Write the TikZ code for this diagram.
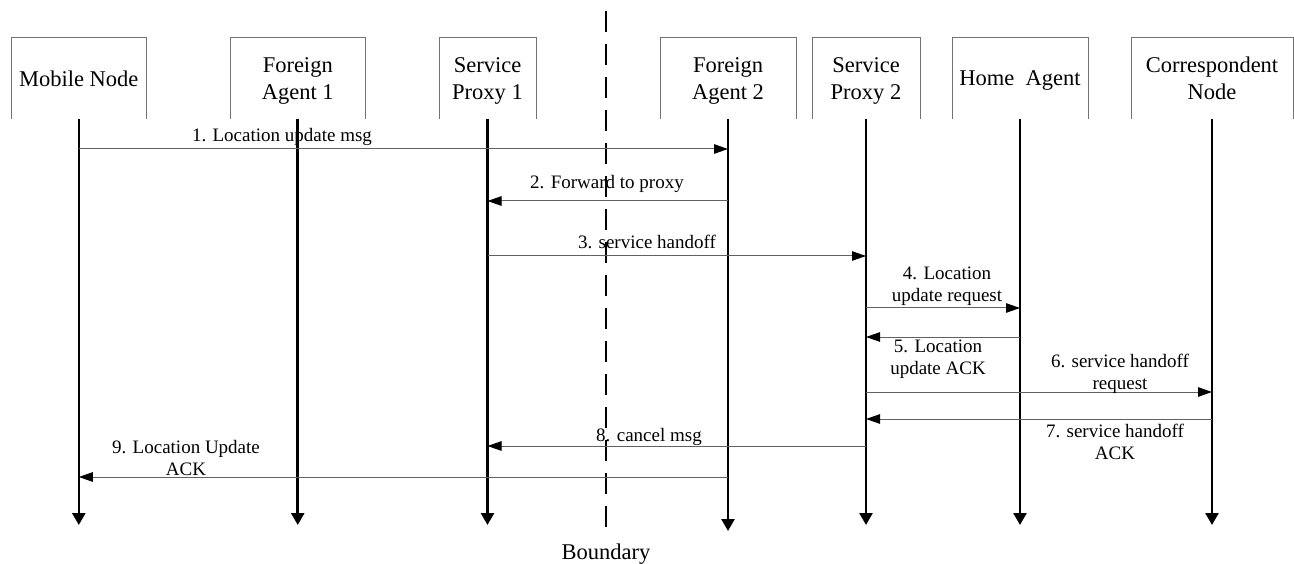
\documentclass[tikz,border=0pt]{standalone}
\usepackage{fontspec}
\setmainfont{Liberation Serif}
\usetikzlibrary{arrows.meta}
\begin{document}
\begin{tikzpicture}[x=1pt,y=-1pt,
  box/.style={minimum height=81pt, inner sep=0pt, outer sep=0pt, align=center, text depth=0pt, font=\fontsize{22.5}{27}\selectfont},
  boxline/.style={draw=black!55, line width=1pt},
  life/.style={line width=2.6pt, -{Triangle[length=12pt,width=13pt]}},
  msg/.style={draw=black!62, line width=1pt, -{Triangle[length=14pt,width=9.5pt,color=black]}},
  lbl/.style={anchor=north, inner sep=0pt, outer sep=0pt, align=center, font=\fontsize{19}{22}\selectfont},
  bdry/.style={line width=1.5pt, dash pattern=on 21pt off 12pt},
]
\useasboundingbox (0,0) rectangle (1294,564);

% participant boxes
\node[box, minimum width=134.5pt] (mn)  at (78.8,78.5)  {Mobile Node};
\node[box, minimum width=134.5pt] (fa1) at (297.75,78.5) {Foreign\\Agent 1};
\node[box, minimum width=97pt]    (sp1) at (487.5,78.5) {Service\\Proxy 1};
\node[box, minimum width=136pt]   (fa2) at (728,78.5)   {Foreign\\Agent 2};
\node[box, minimum width=108pt]   (sp2) at (866,78.5)   {Service\\Proxy 2};
\node[box, minimum width=136pt]   (ha)  at (1020,78.5)  {Home\ \ Agent};
\node[box, minimum width=162pt]   (cn)  at (1212,78.5)  {Correspondent\\Node};

\foreach \b in {mn,fa1,sp1,fa2,sp2,ha,cn}{
  \draw[boxline] (\b.south west) -- (\b.north west) -- (\b.north east) -- (\b.south east);
}

% lifelines
\coordinate (endy) at (0,525);
\coordinate (endyb) at (0,531);
\foreach \b in {mn,fa1,sp1,sp2,ha,cn}{
  \draw[life] (\b.south) -- (\b.south |- endy);
}
\draw[life] (fa2.south) -- (fa2.south |- endyb);

% boundary
\coordinate (bt) at (606,11);
\coordinate (bb) at (606,527);
\draw[bdry] (bt) -- (bb);
\node[lbl, font=\fontsize{22.5}{27}\selectfont] (bnd) at (606,543.6) {Boundary};

% messages
\coordinate (y1) at (0,149);
\coordinate (y2) at (0,201);
\coordinate (y3) at (0,256);
\coordinate (y4) at (0,308);
\coordinate (y5) at (0,337);
\coordinate (y6) at (0,392);
\coordinate (y7) at (0,419);
\coordinate (y8) at (0,446);
\coordinate (y9) at (0,477);

\draw[msg] (mn.south |- y1) -- (fa2.south |- y1);
\node[lbl] (l1) at (282,128) {1. Location update msg};

\draw[msg] (fa2.south |- y2) -- (sp1.south |- y2);
\node[lbl] (l2) at (607,175) {2. Forward to proxy};

\draw[msg] (sp1.south |- y3) -- (sp2.south |- y3);
\node[lbl] (l3) at (647,235) {3. service handoff};

\draw[msg] (sp2.south |- y4) -- (ha.south |- y4);
\node[lbl] (l4) at (947,267) {4. Location\\update request};

\draw[msg] (ha.south |- y5) -- (sp2.south |- y5);
\node[lbl] (l5) at (938,340) {5. Location\\update ACK};

\draw[msg] (sp2.south |- y6) -- (cn.south |- y6);
\node[lbl] (l6) at (1120,354) {6. service handoff\\request};

\draw[msg] (cn.south |- y7) -- (sp2.south |- y7);
\node[lbl] (l7) at (1115,424) {7. service handoff\\ACK};

\draw[msg] (sp2.south |- y8) -- (sp1.south |- y8);
\node[lbl] (l8) at (649,428) {8. cancel msg};

\draw[msg] (fa2.south |- y9) -- (mn.south |- y9);
\node[lbl] (l9) at (186,440) {9. Location Update\\ACK};
\end{tikzpicture}
\end{document}
